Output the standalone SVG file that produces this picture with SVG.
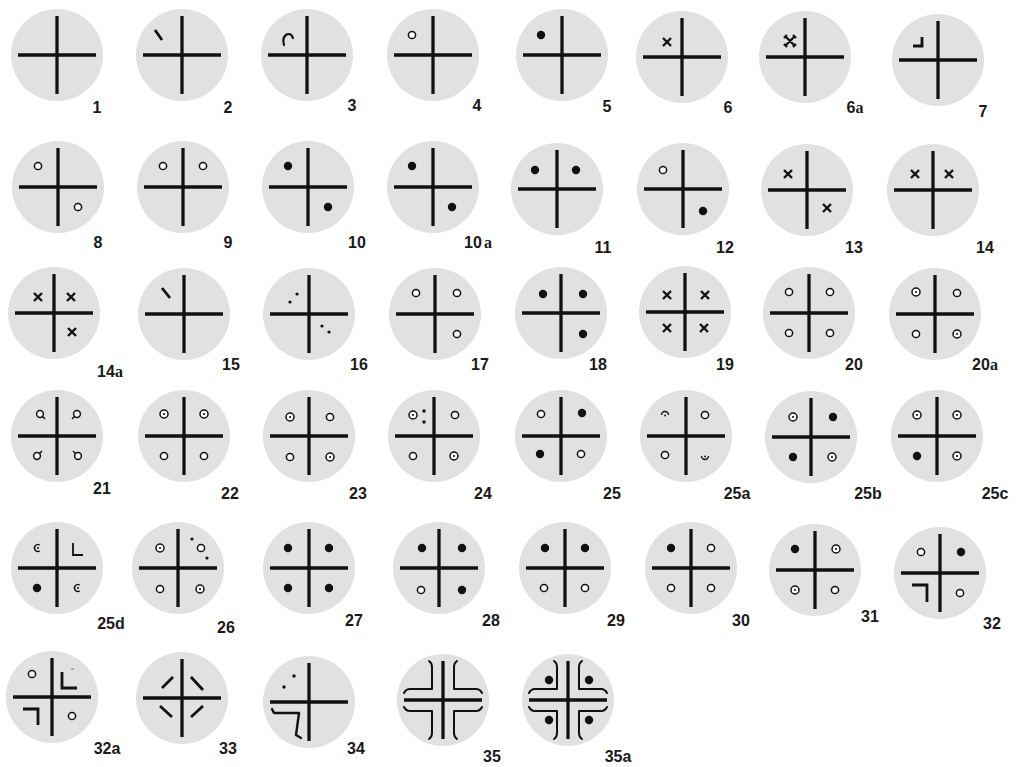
<svg xmlns="http://www.w3.org/2000/svg" width="1017" height="767" viewBox="0 0 1017 767">
<style>
.bg{fill:#e1e1e1}
.cr{stroke:#111;stroke-width:3.3;fill:none}
.oc{fill:#fff;stroke:#111;stroke-width:1.5}
.dt{fill:#111}
.xm{stroke:#111;stroke-width:2.4;fill:none}
.mk{stroke:#111;stroke-width:2.8;fill:none}
.br{stroke:#111;stroke-width:2;fill:none;stroke-linecap:round;stroke-linejoin:round}
.lb{font-family:"Liberation Sans",Arial,sans-serif;font-weight:bold;font-size:16px;fill:#1a1a1a;text-anchor:middle}
.sa{font-family:"Liberation Serif","Times New Roman",serif;font-weight:bold}
</style>
<defs>
<g id="base"><circle r="46" class="bg"/><path class="cr" d="M-39,0H39M0,-39V39"/></g>
<circle id="o" r="3.6" class="oc"/>
<circle id="d" r="4.2" class="dt"/>
<g id="cd"><circle r="4" class="oc"/><circle r="1.1" class="dt"/></g>
<path id="x" class="xm" d="M-4,-4L4,4M4,-4L-4,4"/>
<g id="q"><circle r="3.4" class="oc"/><path class="xm" style="stroke-width:1.5" d="M2.3,2.3L5,5"/></g>
<g id="cdot"><path style="fill:none;stroke:#111;stroke-width:1.4" d="M1.8,-3A3.5,3.5 0 1 0 1.8,3"/><circle r="1" class="dt"/></g>
<path id="qb" class="br" d="M-39,-7Q-37,-11 -33,-11L-11,-11L-11,-33Q-11,-37 -14,-39"/>
</defs>
<g id="connectors"/>

<!-- Row 1 -->
<g id="n1" transform="translate(57,55)"><use href="#base"/><text class="lb" x="40" y="58">1</text></g>
<g id="n2" transform="translate(182,55)"><use href="#base"/><path class="mk" d="M-27,-25L-20,-15"/><text class="lb" x="46" y="58">2</text></g>
<g id="n3" transform="translate(307,55)"><use href="#base"/><path class="br" style="stroke-width:2.2" d="M-23,-10C-26,-20 -17,-25 -14,-17"/><text class="lb" x="45" y="56">3</text></g>
<g id="n4" transform="translate(433,55)"><use href="#base"/><use href="#o" x="-21" y="-20"/><text class="lb" x="44" y="56">4</text></g>
<g id="n5" transform="translate(562,55)"><use href="#base"/><use href="#d" x="-21" y="-20"/><text class="lb" x="45" y="57">5</text></g>
<g id="n6" transform="translate(682,57)"><use href="#base"/><use href="#x" x="-15" y="-15"/><text class="lb" x="46" y="56">6</text></g>
<g id="n6a" transform="translate(805,57)"><use href="#base"/><g transform="translate(-15,-16)"><path class="xm" d="M-4,-4L4,4M4,-4L-4,4M-6,-3L-3,-6M6,-3L3,-6M-6,3L-3,6M6,3L3,6"/></g><text class="lb" x="50" y="56">6<tspan class="sa">a</tspan></text></g>
<g id="n7" transform="translate(938,60)"><use href="#base"/><path class="mk" d="M-25,-14H-16V-23"/><text class="lb" x="45" y="57">7</text></g>

<!-- Row 2 -->
<g id="n8" transform="translate(58,187)"><use href="#base"/><use href="#o" x="-20" y="-21"/><use href="#o" x="20" y="20"/><text class="lb" x="40" y="61">8</text></g>
<g id="n9" transform="translate(183,187)"><use href="#base"/><use href="#o" x="-20" y="-21"/><use href="#o" x="20" y="-21"/><text class="lb" x="45" y="61">9</text></g>
<g id="n10" transform="translate(308,187)"><use href="#base"/><use href="#d" x="-20" y="-21"/><use href="#d" x="20" y="20"/><text class="lb" x="49" y="61">10</text></g>
<g id="n10a" transform="translate(433,187)"><use href="#base"/><use href="#d" x="-21" y="-21"/><use href="#d" x="19" y="20"/><text class="lb" x="45" y="61">10<tspan class="sa" dx="2">a</tspan></text></g>
<g id="n11" transform="translate(557,189)"><use href="#base"/><use href="#d" x="-22" y="-19"/><use href="#d" x="19" y="-19"/><text class="lb" x="46" y="64">11</text></g>
<g id="n12" transform="translate(683,189)"><use href="#base"/><use href="#o" x="-20" y="-19"/><use href="#d" x="20" y="22"/><text class="lb" x="42" y="64">12</text></g>
<g id="n13" transform="translate(807,190)"><use href="#base"/><use href="#x" x="-19" y="-16"/><use href="#x" x="20" y="18"/><text class="lb" x="47" y="63">13</text></g>
<g id="n14" transform="translate(933,190)"><use href="#base"/><use href="#x" x="-18" y="-16"/><use href="#x" x="16" y="-16"/><text class="lb" x="52" y="63">14</text></g>

<!-- Row 3 -->
<g id="n14a" transform="translate(54,313)"><use href="#base"/><use href="#x" x="-16" y="-16"/><use href="#x" x="17" y="-16"/><use href="#x" x="18" y="19"/><text class="lb" x="56" y="64">14<tspan class="sa">a</tspan></text></g>
<g id="n15" transform="translate(184,314)"><use href="#base"/><path class="mk" d="M-22,-26L-14,-16"/><text class="lb" x="47" y="56">15</text></g>
<g id="n16" transform="translate(309,314)"><use href="#base"/><circle class="dt" cx="-19" cy="-12" r="1.6"/><circle class="dt" cx="-12" cy="-20" r="1.6"/><circle class="dt" cx="13" cy="12" r="1.6"/><circle class="dt" cx="20" cy="18" r="1.6"/><text class="lb" x="50" y="56">16</text></g>
<g id="n17" transform="translate(435,314)"><use href="#base"/><use href="#o" x="-19" y="-21"/><use href="#o" x="22" y="-21"/><use href="#o" x="22" y="20"/><text class="lb" x="45" y="56">17</text></g>
<g id="n18" transform="translate(561,313)"><use href="#base"/><use href="#d" x="-18" y="-19"/><use href="#d" x="22" y="-19"/><use href="#d" x="22" y="21"/><text class="lb" x="37" y="57">18</text></g>
<g id="n19" transform="translate(685,312)"><use href="#base"/><use href="#x" x="-18" y="-17"/><use href="#x" x="20" y="-17"/><use href="#x" x="-18" y="16"/><use href="#x" x="19" y="16"/><text class="lb" x="40" y="58">19</text></g>
<g id="n20" transform="translate(809,313)"><use href="#base"/><use href="#o" x="-20" y="-21"/><use href="#o" x="21" y="-21"/><use href="#o" x="-20" y="20"/><use href="#o" x="21" y="20"/><text class="lb" x="45" y="57">20</text></g>
<g id="n20a" transform="translate(935,314)"><use href="#base"/><use href="#cd" x="-19" y="-22"/><use href="#o" x="22" y="-21"/><use href="#o" x="-19" y="20"/><use href="#cd" x="22" y="20"/><text class="lb" x="50" y="56">20<tspan class="sa">a</tspan></text></g>

<!-- Row 4 -->
<g id="n21" transform="translate(57,436)"><use href="#base"/><use href="#q" transform="translate(-17,-22)"/><use href="#q" transform="translate(20,-22) scale(-1,1)"/><use href="#q" transform="translate(-20,20) scale(1,-1)"/><use href="#q" transform="translate(21,20) scale(-1,-1)"/><text class="lb" x="45" y="58">21</text></g>
<g id="n22" transform="translate(184,436)"><use href="#base"/><use href="#cd" x="-20" y="-22"/><use href="#cd" x="20" y="-22"/><use href="#o" x="-20" y="20"/><use href="#o" x="20" y="20"/><text class="lb" x="46" y="63">22</text></g>
<g id="n23" transform="translate(309,436)"><use href="#base"/><use href="#cd" x="-19" y="-19"/><use href="#o" x="21" y="-19"/><use href="#o" x="-19" y="21"/><use href="#cd" x="21" y="21"/><text class="lb" x="49" y="63">23</text></g>
<g id="n24" transform="translate(434,436)"><use href="#base"/><use href="#cd" x="-21" y="-21"/><circle class="dt" cx="-10" cy="-25" r="1.7"/><circle class="dt" cx="-10" cy="-14" r="1.7"/><use href="#o" x="21" y="-21"/><use href="#o" x="-21" y="20"/><use href="#cd" x="20" y="20"/><text class="lb" x="49" y="63">24</text></g>
<g id="n25" transform="translate(561,436)"><use href="#base"/><use href="#o" x="-20" y="-22"/><use href="#d" x="21" y="-23"/><use href="#d" x="-21" y="18"/><use href="#o" x="20" y="18"/><text class="lb" x="51" y="63">25</text></g>
<g id="n25a" transform="translate(686,436)"><use href="#base"/><path style="fill:none;stroke:#111;stroke-width:1.4" d="M-24.5,-21A3.5,3.5 0 0 1 -17.5,-21"/><circle class="dt" cx="-21" cy="-20.5" r="0.9"/><use href="#o" x="19" y="-21"/><use href="#o" x="-21" y="19"/><path style="fill:none;stroke:#111;stroke-width:1.4" d="M15.5,20A3.5,3.5 0 0 0 22.5,20"/><circle class="dt" cx="19" cy="20.5" r="0.9"/><text class="lb" x="51" y="63">25a</text></g>
<g id="n25b" transform="translate(811,437)"><use href="#base"/><use href="#cd" x="-18" y="-20"/><use href="#d" x="22" y="-20"/><use href="#d" x="-18" y="20"/><use href="#cd" x="21" y="20"/><text class="lb" x="57" y="62">25b</text></g>
<g id="n25c" transform="translate(937,436)"><use href="#base"/><use href="#cd" x="-20" y="-21"/><use href="#cd" x="20" y="-21"/><use href="#d" x="-20" y="20"/><use href="#cd" x="20" y="20"/><text class="lb" x="58" y="63">25c</text></g>

<!-- Row 5 -->
<g id="n25d" transform="translate(57,568)"><use href="#base"/><use href="#cdot" x="-19" y="-20"/><path class="br" style="stroke-width:1.8;stroke-linecap:butt;stroke-linejoin:miter" d="M16,-25V-13H26"/><use href="#d" x="-20" y="20"/><use href="#cdot" x="21" y="20"/><text class="lb" x="54" y="61">25d</text></g>
<g id="n26" transform="translate(178,568)"><use href="#base"/><use href="#cd" x="-18" y="-20"/><circle class="dt" cx="14" cy="-29" r="1.6"/><use href="#o" x="23" y="-20"/><circle class="dt" cx="29" cy="-10" r="1.6"/><use href="#o" x="-18" y="21"/><use href="#cd" x="22" y="21"/><text class="lb" x="48" y="65">26</text></g>
<g id="n27" transform="translate(309,568)"><use href="#base"/><use href="#d" x="-21" y="-20"/><use href="#d" x="20" y="-20"/><use href="#d" x="-21" y="20"/><use href="#d" x="20" y="20"/><text class="lb" x="45" y="58">27</text></g>
<g id="n28" transform="translate(439,568)"><use href="#base"/><use href="#d" x="-17" y="-20"/><use href="#d" x="23" y="-20"/><use href="#o" x="-18" y="22"/><use href="#d" x="23" y="22"/><text class="lb" x="52" y="58">28</text></g>
<g id="n29" transform="translate(565,568)"><use href="#base"/><use href="#d" x="-20" y="-20"/><use href="#d" x="20" y="-20"/><use href="#o" x="-21" y="20"/><use href="#o" x="20" y="20"/><text class="lb" x="51" y="58">29</text></g>
<g id="n30" transform="translate(691,568)"><use href="#base"/><use href="#d" x="-20" y="-20"/><use href="#o" x="20" y="-20"/><use href="#o" x="-20" y="20"/><use href="#o" x="20" y="20"/><text class="lb" x="50" y="58">30</text></g>
<g id="n31" transform="translate(815,570)"><use href="#base"/><use href="#d" x="-20" y="-21"/><use href="#cd" x="21" y="-21"/><use href="#cd" x="-20" y="20"/><use href="#o" x="20" y="20"/><text class="lb" x="55" y="52">31</text></g>
<g id="n32" transform="translate(940,573)"><use href="#base"/><use href="#o" x="-19" y="-21"/><use href="#d" x="21" y="-21"/><path class="mk" d="M-28,12H-13V29"/><use href="#o" x="20" y="20"/><text class="lb" x="52" y="56">32</text></g>

<!-- Row 6 -->
<g id="n32a" transform="translate(52,697)"><use href="#base"/><use href="#o" x="-20" y="-23"/><path class="mk" d="M10,-25V-9H25"/><path style="stroke:#777;stroke-width:1" d="M19,-28H22"/><path class="mk" d="M-29,12H-14V28"/><use href="#o" x="20" y="19"/><text class="lb" x="55" y="57">32a</text></g>
<g id="n33" transform="translate(182,698)"><use href="#base"/><path class="mk" d="M-20,-10L-9,-21M9,-21L21,-8M-22,8L-10,19M9,19L21,8"/><text class="lb" x="46" y="56">33</text></g>
<g id="n34" transform="translate(309,702)"><use href="#base"/><circle class="dt" cx="-15" cy="-26" r="1.7"/><circle class="dt" cx="-25" cy="-15" r="1.7"/><path class="br" style="stroke-width:2.4" d="M-37,7L-35,11L-10,11L-13,33L-8,36"/><text class="lb" x="47" y="52">34</text></g>
<g id="n35" transform="translate(443,700)"><use href="#base"/><use href="#qb"/><use href="#qb" transform="scale(-1,1)"/><use href="#qb" transform="scale(1,-1)"/><use href="#qb" transform="scale(-1,-1)"/><text class="lb" x="49" y="62">35</text></g>
<g id="n35a" transform="translate(568,700)"><use href="#base"/><use href="#qb"/><use href="#qb" transform="scale(-1,1)"/><use href="#qb" transform="scale(1,-1)"/><use href="#qb" transform="scale(-1,-1)"/><use href="#d" x="-19" y="-20"/><use href="#d" x="21" y="-20"/><use href="#d" x="-19" y="20"/><use href="#d" x="21" y="20"/><text class="lb" x="50" y="62">35a</text></g>
</svg>
